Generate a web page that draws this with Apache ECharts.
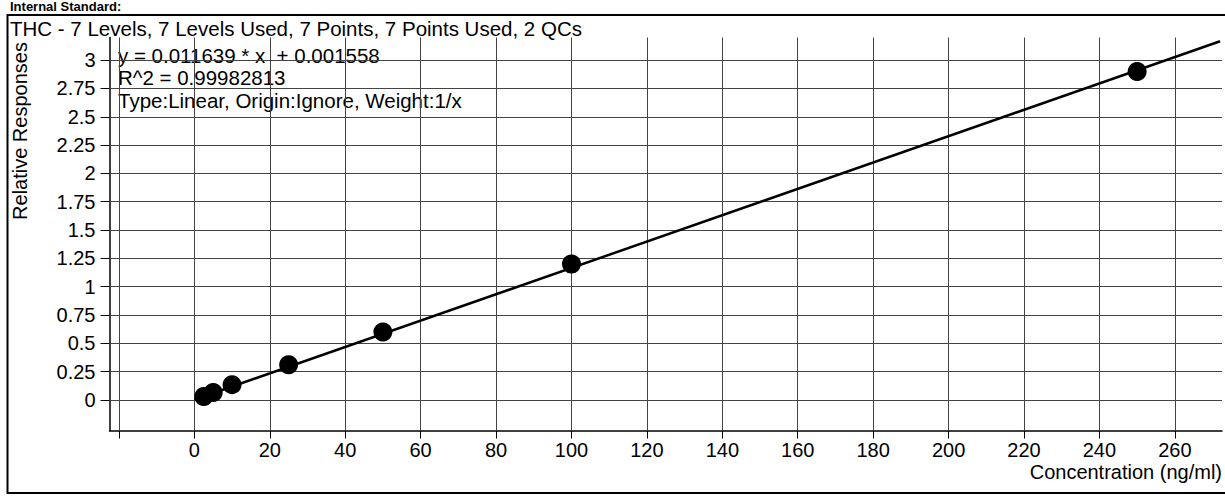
<!DOCTYPE html>
<html><head><meta charset="utf-8">
<script src="https://cdn.jsdelivr.net/npm/echarts@6/dist/echarts.min.js"></script>
<style>html,body{margin:0;padding:0;background:#fff}#chart{width:1225px;height:498px}</style>
</head><body><div id="chart"></div>
<script>
// ---- data ----
const concentrations = [2.5, 5, 10, 25, 50, 100, 250];
const responses = [0.03, 0.065, 0.135, 0.31, 0.60, 1.20, 2.90];
const fitLineX = [0, 272];
const fitLineY = [0.0016, 3.167];
const xTickValues = [-20, 0, 20, 40, 60, 80, 100, 120, 140, 160, 180, 200, 220, 240, 260];
const xLabelValues = [0, 20, 40, 60, 80, 100, 120, 140, 160, 180, 200, 220, 240, 260];
const yTickValues = [0, 0.25, 0.5, 0.75, 1, 1.25, 1.5, 1.75, 2, 2.25, 2.5, 2.75, 3];
const headerText = 'Internal Standard:';
const titleText = 'THC - 7 Levels, 7 Levels Used, 7 Points, 7 Points Used, 2 QCs';
const equationLines = ['y = 0.011639 * x  + 0.001558', 'R^2 = 0.99982813', 'Type:Linear, Origin:Ignore, Weight:1/x'];
const xAxisName = 'Concentration (ng/ml)';
const yAxisName = 'Relative Responses';

const FONT = "'Liberation Sans', Arial, sans-serif";
const chart = echarts.init(document.getElementById('chart'), null, {renderer: 'svg'});

const gridLines = [
  ...xTickValues.map(v => ({xAxis: v})),
  ...yTickValues.map(v => ({yAxis: v}))
];

chart.setOption({
  animation: false,
  backgroundColor: '#fff',
  textStyle: {fontFamily: FONT, color: '#000'},
  grid: {left: 109.5, right: 3, top: 37.5, bottom: 67.5, containLabel: false},
  xAxis: {
    type: 'value', min: -22.5, max: 272.5,
    axisLine: {onZero: false, lineStyle: {color: '#000', width: 1.5}},
    axisTick: {show: true, inside: false, length: 8, customValues: xTickValues, lineStyle: {color: '#000', width: 1}},
    axisLabel: {customValues: xLabelValues, margin: 9, fontSize: 20, color: '#000', fontFamily: FONT},
    splitLine: {show: false}
  },
  yAxis: {
    type: 'value', min: -0.27, max: 3.2,
    axisLine: {show: true, onZero: false, lineStyle: {color: '#000', width: 1.5}},
    axisTick: {show: true, inside: false, length: 9, customValues: yTickValues, lineStyle: {color: '#000', width: 1}},
    axisLabel: {customValues: yTickValues, margin: 14, fontSize: 20, color: '#000', fontFamily: FONT},
    splitLine: {show: false}
  },
  series: [
    {
      type: 'line',
      data: fitLineX.map((x, i) => [x, fitLineY[i]]),
      showSymbol: false,
      symbol: 'none',
      lineStyle: {color: '#000', width: 2.5},
      z: 3,
      markLine: {
        silent: true,
        z: 1,
        symbol: ['none', 'none'],
        label: {show: false},
        lineStyle: {color: '#444', width: 1, type: 'solid'},
        emphasis: {disabled: true},
        data: gridLines
      }
    },
    {
      type: 'scatter',
      data: concentrations.map((x, i) => [x, responses[i]]),
      symbol: 'circle',
      symbolSize: 19,
      itemStyle: {color: '#000', opacity: 1},
      emphasis: {disabled: true},
      z: 4
    }
  ],
  graphic: [
    {type: 'rect', shape: {x: 7.5, y: 15, width: 1240, height: 478}, style: {fill: 'none', stroke: '#000', lineWidth: 2}, silent: true, z: 10},
    {type: 'text', x: 10, y: 0, style: {text: headerText, font: "bold 13px " + FONT, fill: '#000', textVerticalAlign: 'top'}, silent: true},
    {type: 'text', x: 10, y: 28, style: {text: titleText, font: "20.5px " + FONT, fill: '#000', textVerticalAlign: 'middle'}, silent: true},
    {type: 'text', x: 20, y: 131, rotation: Math.PI / 2, style: {text: yAxisName, font: "20px " + FONT, fill: '#000', textAlign: 'center', textVerticalAlign: 'middle'}, silent: true},
    {type: 'text', x: 1222, y: 472, style: {text: xAxisName, font: "20px " + FONT, fill: '#000', textAlign: 'right', textVerticalAlign: 'middle'}, silent: true},
    ...equationLines.map((t, i) => ({type: 'text', x: 118, y: 55 + i * 22.5, style: {text: t, font: "20.5px " + FONT, fill: '#000', textVerticalAlign: 'middle'}, silent: true}))
  ]
});
</script>
</body></html>
